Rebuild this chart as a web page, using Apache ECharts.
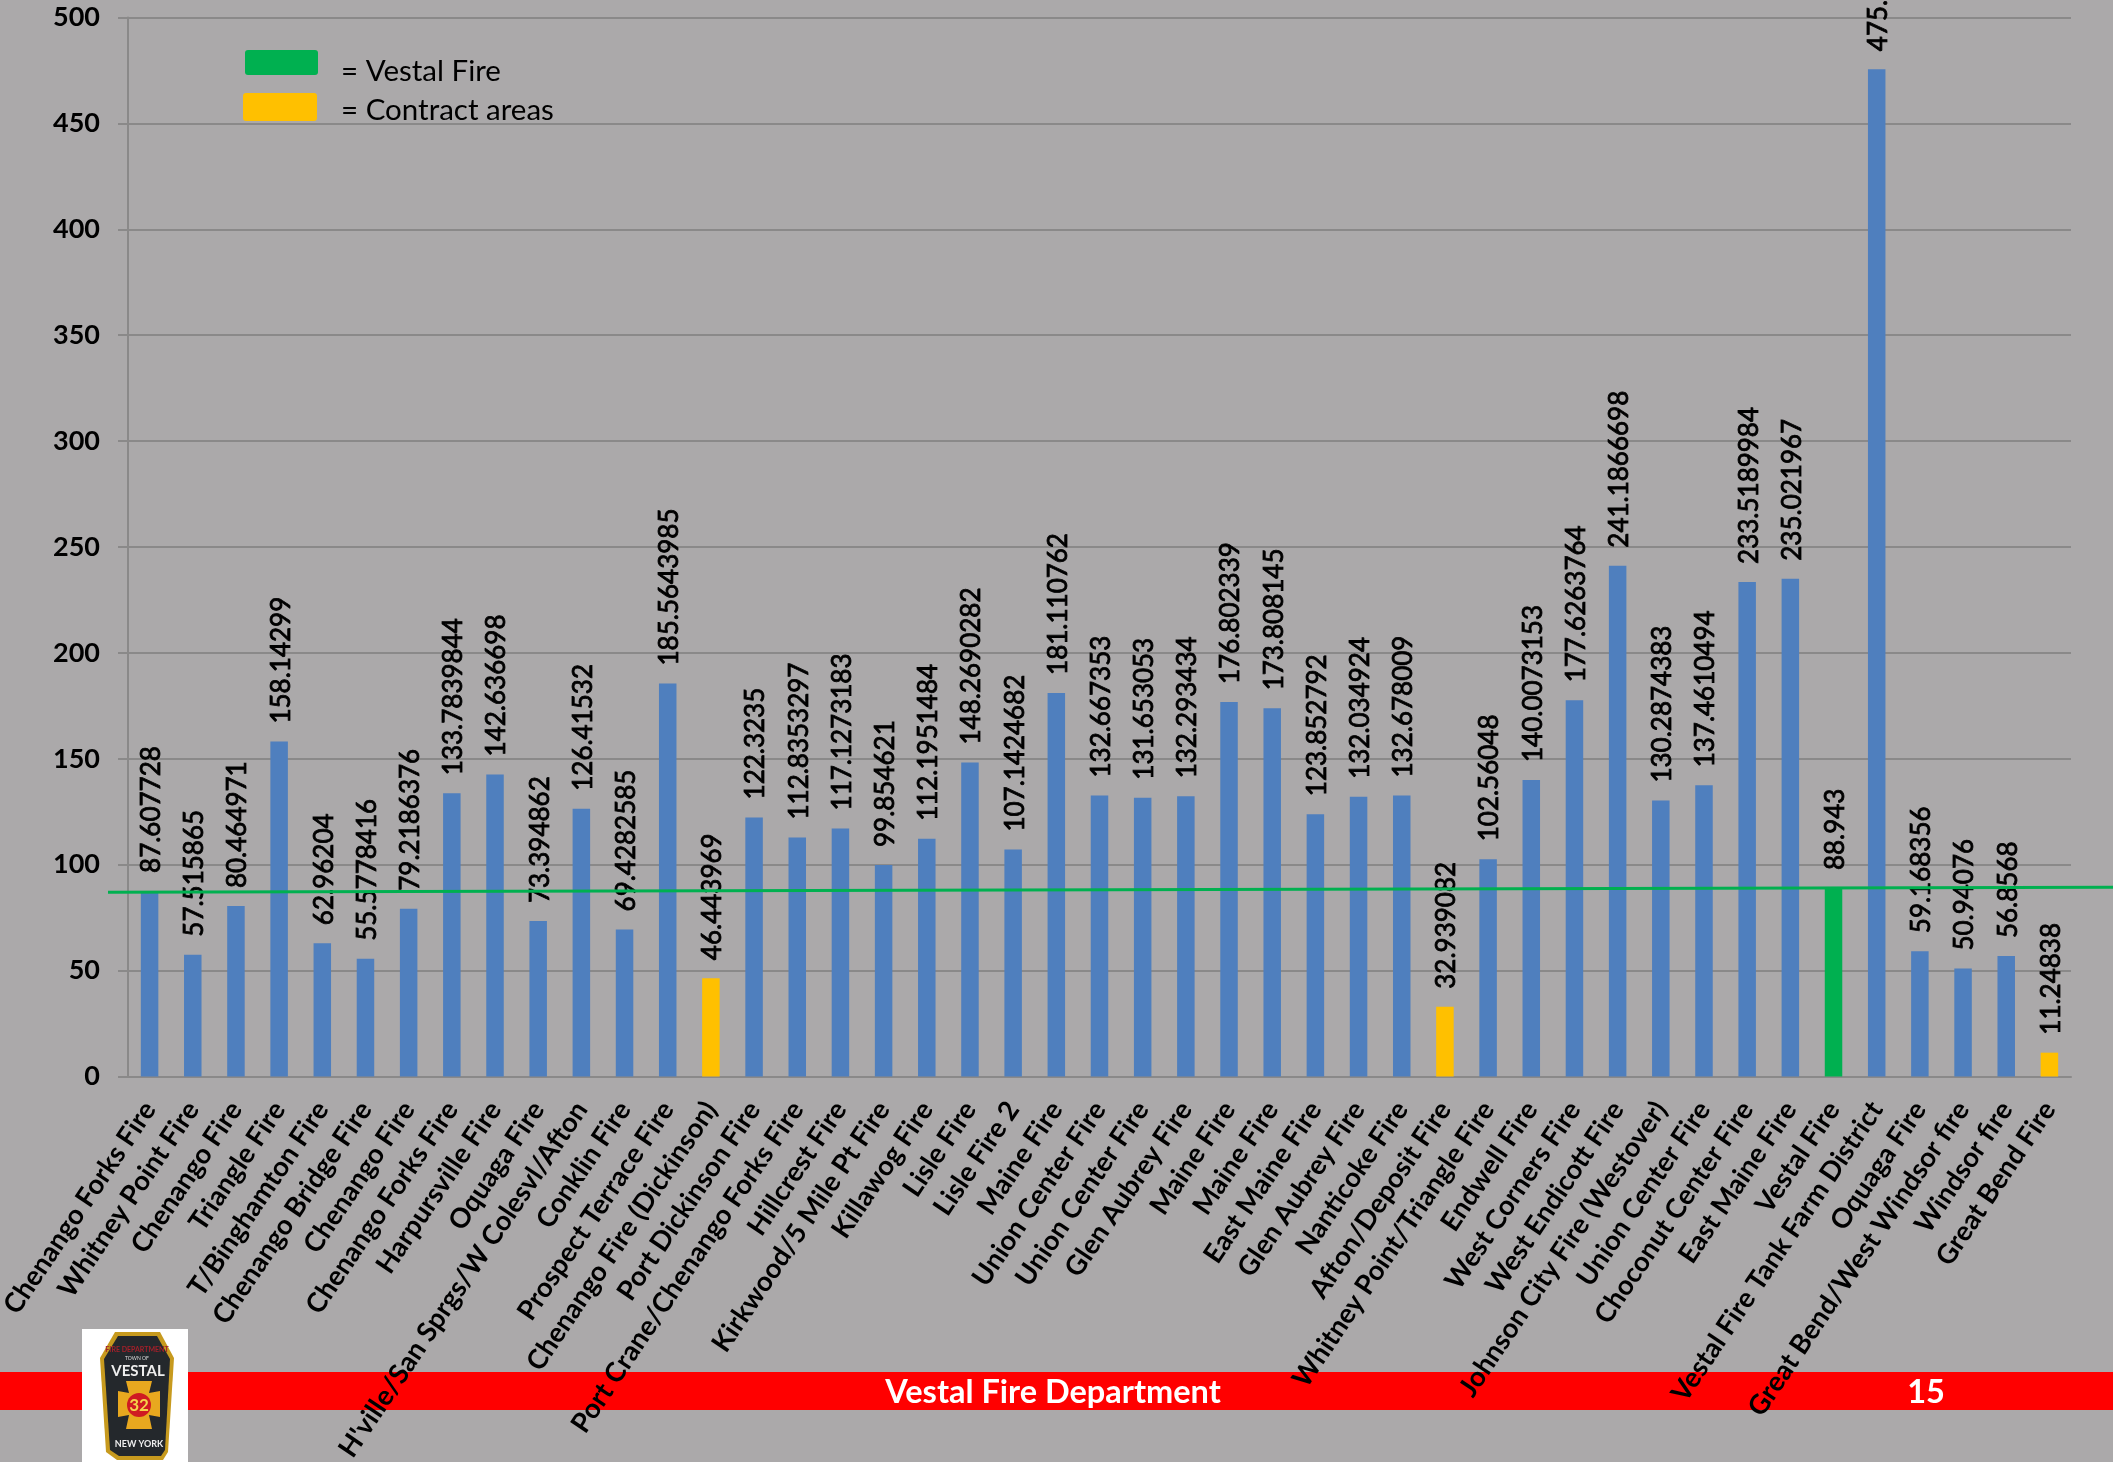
<!DOCTYPE html>
<html>
<head>
<meta charset="utf-8">
<title>Vestal Fire Department</title>
<script src="https://cdn.jsdelivr.net/npm/echarts@6/dist/echarts.min.js"></script>
<style>
    html, body { margin: 0; padding: 0; background: #fff; }
    #chart { width: 2113px; height: 1462px; }
</style>
</head>
<body>
<div id="chart"></div>
<script>
var categories = [
    'Chenango Forks Fire', 'Whitney Point Fire', 'Chenango Fire', 'Triangle Fire', 'T/Binghamton Fire',
    'Chenango Bridge Fire', 'Chenango Fire', 'Chenango Forks Fire', 'Harpursville Fire', 'Oquaga Fire',
    "H'ville/San Sprgs/W Colesvl/Afton", 'Conklin Fire', 'Prospect Terrace Fire', 'Chenango Fire (Dickinson)',
    'Port Dickinson Fire', 'Port Crane/Chenango Forks Fire', 'Hillcrest Fire', 'Kirkwood/5 Mile Pt Fire',
    'Killawog Fire', 'Lisle Fire', 'Lisle Fire 2', 'Maine Fire', 'Union Center Fire', 'Union Center Fire',
    'Glen Aubrey Fire', 'Maine Fire', 'Maine Fire', 'East Maine Fire', 'Glen Aubrey Fire', 'Nanticoke Fire',
    'Afton/Deposit Fire', 'Whitney Point/Triangle Fire', 'Endwell Fire', 'West Corners Fire', 'West Endicott Fire',
    'Johnson City Fire (Westover)', 'Union Center Fire', 'Choconut Center Fire', 'East Maine Fire', 'Vestal Fire',
    'Vestal Fire Tank Farm District', 'Oquaga Fire', 'Great Bend/West Windsor fire', 'Windsor fire', 'Great Bend Fire'
];
var values = [
    87.607728, 57.515865, 80.464971, 158.14299, 62.96204,
    55.5778416, 79.2186376, 133.7839844, 142.636698, 73.394862,
    126.41532, 69.4282585, 185.5643985, 46.443969,
    122.3235, 112.8353297, 117.1273183, 99.854621,
    112.1951484, 148.2690282, 107.1424682, 181.110762, 132.667353, 131.653053,
    132.293434, 176.802339, 173.808145, 123.852792, 132.034924, 132.678009,
    32.939082, 102.56048, 140.0073153, 177.6263764, 241.1866698,
    130.2874383, 137.4610494, 233.5189984, 235.021967, 88.943,
    475.6, 59.168356, 50.94076, 56.8568, 11.24838
];
var contractAreas = ['Chenango Fire (Dickinson)', 'Afton/Deposit Fire', 'Great Bend Fire'];
var vestalArea = 'Vestal Fire';
// the hand drawn line on the slide is a little off level
var vestalLine = [87.0, 89.4];

var BLUE = '#4f7fbe', YELLOW = '#ffc000', GREEN = '#00b050', RED = '#ff0000';
var GRID = '#8a8989', BG = '#aba9aa';
var FONT = 'Lato, "Open Sans", sans-serif';

var barData = [];
for (var i = 0; i < values.length; i++) {
    var color = BLUE;
    if (contractAreas.indexOf(categories[i]) > -1) color = YELLOW;
    if (categories[i] === vestalArea) color = GREEN;
    barData.push({ value: values[i], itemStyle: { color: color } });
}

var chart = echarts.init(document.getElementById('chart'));

var option = {
    animation: false,
    backgroundColor: BG,
    textStyle: { fontFamily: FONT },
    grid: { left: 128, right: 42, top: 17.5, bottom: 385.5, outerBoundsMode: 'none' },
    xAxis: [{
        type: 'category',
        data: categories,
        axisLine: { lineStyle: { color: GRID, width: 2 } },
        axisTick: { length: 10, lineStyle: { color: GRID, width: 2 } },
        axisLabel: {
            interval: 0, rotate: 56, margin: 28,
            color: '#000', fontSize: 27.3, fontWeight: 'bold', fontFamily: FONT
        }
    }],
    yAxis: [{
        type: 'value',
        min: 0, max: 500, interval: 50,
        axisLine: { show: true, lineStyle: { color: GRID, width: 2 } },
        axisTick: { show: true, length: 10, lineStyle: { color: GRID, width: 2 } },
        splitLine: { lineStyle: { color: GRID, width: 2 } },
        axisLabel: { margin: 28, color: '#000', fontSize: 27, fontWeight: 'bold', fontFamily: FONT }
    }],
    series: [{
        type: 'bar',
        data: barData,
        barWidth: 17.5,
        label: {
            show: true, position: 'top', distance: 18, rotate: 90, offset: [0, 2],
            align: 'left', verticalAlign: 'middle',
            color: '#000', fontSize: 26, fontFamily: FONT,
            textBorderColor: '#000', textBorderWidth: 0.8
        }
    }]
};
chart.setOption(option);

// slide furniture, footer band, legend boxes, logo and the reference line
var lineLeft = chart.convertToPixel({ yAxisIndex: 0 }, vestalLine[0]);
var lineRight = chart.convertToPixel({ yAxisIndex: 0 }, vestalLine[1]);

chart.setOption({
    graphic: [
        { type: 'rect', z: -10, shape: { x: 0, y: 1372, width: 2113, height: 38 }, style: { fill: RED } },
        { type: 'text', z: -9, style: { x: 1053, y: 1393, text: 'Vestal Fire Department', fill: '#fff', font: 'bold 32.5px ' + FONT, textAlign: 'center', textVerticalAlign: 'middle' } },
        { type: 'text', z: -9, style: { x: 1926, y: 1393, text: '15', fill: '#fff', font: 'bold 32.5px ' + FONT, textAlign: 'center', textVerticalAlign: 'middle' } },

        { type: 'rect', z: 5, shape: { x: 245, y: 50, width: 73, height: 25, r: 3 }, style: { fill: GREEN } },
        { type: 'rect', z: 5, shape: { x: 243, y: 93, width: 74, height: 28, r: 3 }, style: { fill: YELLOW } },
        { type: 'text', z: 5, style: { x: 341, y: 71, text: '= Vestal Fire', fill: '#000', font: '29.5px ' + FONT, textVerticalAlign: 'middle' } },
        { type: 'text', z: 5, style: { x: 341, y: 110, text: '= Contract areas', fill: '#000', font: '29.5px ' + FONT, textVerticalAlign: 'middle' } },

        { type: 'rect', z: 6, shape: { x: 82, y: 1329, width: 106, height: 133 }, style: { fill: '#fff' } },
        { type: 'polygon', z: 7, shape: { points: [[115, 1332], [160, 1332], [174, 1358], [168, 1452], [163, 1460], [117, 1460], [106, 1452], [100, 1358]] }, style: { fill: '#c79a1e' } },
        { type: 'polygon', z: 8, shape: { points: [[118, 1336], [157, 1336], [170, 1359], [165, 1450], [161, 1456], [119, 1456], [110, 1450], [104, 1359]] }, style: { fill: '#24282c' } },
        { type: 'text', z: 9, style: { x: 137, y: 1350, text: 'FIRE DEPARTMENT', fill: '#a3202a', font: 'bold 7px ' + FONT, textAlign: 'center', textVerticalAlign: 'middle' } },
        { type: 'text', z: 9, style: { x: 137, y: 1358, text: 'TOWN OF', fill: '#ddd', font: '5px ' + FONT, textAlign: 'center', textVerticalAlign: 'middle' } },
        { type: 'text', z: 9, style: { x: 138, y: 1371, text: 'VESTAL', fill: '#eee', font: 'bold 15px ' + FONT, textAlign: 'center', textVerticalAlign: 'middle' } },
        { type: 'polygon', z: 9, shape: { points: [[126, 1381], [152, 1381], [149, 1393], [160, 1391], [160, 1417], [149, 1415], [152, 1429], [126, 1429], [129, 1415], [118, 1417], [118, 1391], [129, 1393]] }, style: { fill: '#e8a81f' } },
        { type: 'circle', z: 10, shape: { cx: 139, cy: 1405, r: 12 }, style: { fill: '#cf1a22' } },
        { type: 'text', z: 11, style: { x: 139, y: 1406, text: '32', fill: '#f5d24a', font: 'bold 17px ' + FONT, textAlign: 'center', textVerticalAlign: 'middle' } },
        { type: 'text', z: 9, style: { x: 139, y: 1444, text: 'NEW YORK', fill: '#eee', font: 'bold 9px ' + FONT, textAlign: 'center', textVerticalAlign: 'middle' } },

        { type: 'line', z: 100, shape: { x1: 108, y1: lineLeft, x2: 2113, y2: lineRight }, style: { stroke: GREEN, lineWidth: 3 } }
    ]
});
</script>
</body>
</html>
